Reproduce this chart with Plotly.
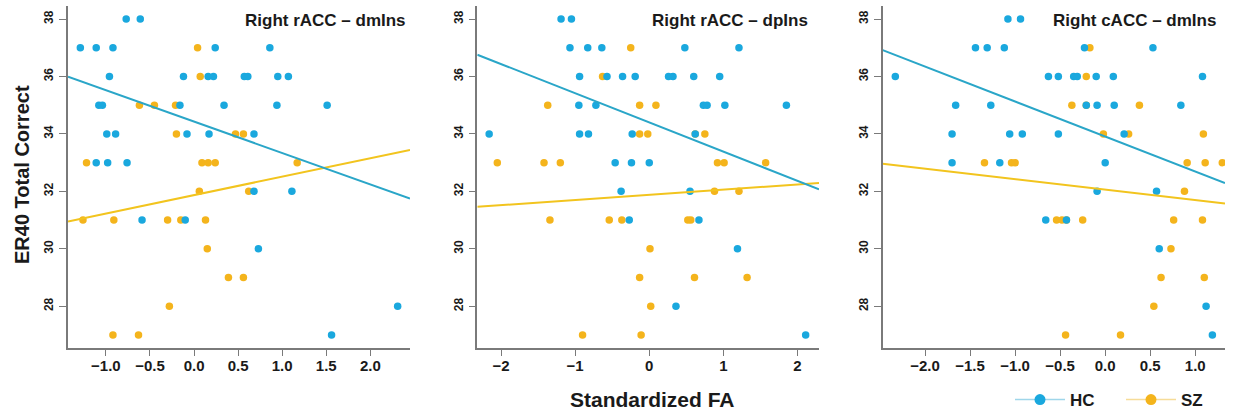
import plotly.graph_objects as go

# ---------------- data ----------------
panel_titles = ["Right rACC \u2013 dmIns", "Right rACC \u2013 dpIns", "Right cACC \u2013 dmIns"]
group_names = ["HC", "SZ"]

# Panel 1: Right rACC - dmIns
p1_hc_x = [-0.77, -0.61, -1.29, -1.11, -0.92, 0.24, 0.86, -0.96, -0.12, 0.16, 0.22, 0.57, 0.61, 0.95, 1.07,
           -1.08, -1.04, -0.16, 0.34, 0.94, 1.51, -0.99, -0.89, -0.08, 0.17, 0.68, -1.11, -0.98, -0.76,
           0.68, 1.11, -0.59, -0.10, 0.73, 2.31, 1.56]
p1_hc_y = [38, 38, 37, 37, 37, 37, 37, 36, 36, 36, 36, 36, 36, 36, 36,
           35, 35, 35, 35, 35, 35, 34, 34, 34, 34, 34, 33, 33, 33,
           32, 32, 31, 31, 30, 28, 27]
p1_sz_x = [0.04, 0.07, -0.62, -0.45, -0.21, -0.20, 0.47, 0.56, -1.22, 0.09, 0.16, 0.24, 1.17,
           0.06, 0.62, -1.26, -0.91, -0.30, -0.15, 0.13, 0.15, 0.39, 0.56, -0.28, -0.92, -0.63]
p1_sz_y = [37, 36, 35, 35, 35, 34, 34, 34, 33, 33, 33, 33, 33,
           32, 32, 31, 31, 31, 31, 31, 30, 29, 29, 28, 27, 27]

# Panel 2: Right rACC - dpIns
p2_hc_x = [-1.19, -1.05, -1.07, -0.83, -0.64, 0.48, 1.21, -0.94, -0.57, -0.36, -0.19, 0.26, 0.32, 0.60, 0.95,
           -0.95, -0.72, 0.73, 0.78, 1.02, 1.85, -2.16, -0.94, -0.82, -0.23, 0.62, -0.46, -0.24, 0.00,
           -0.38, 0.55, -0.27, 0.67, 1.19, 0.36, 2.11]
p2_hc_y = [38, 38, 37, 37, 37, 37, 37, 36, 36, 36, 36, 36, 36, 36, 36,
           35, 35, 35, 35, 35, 35, 34, 34, 34, 34, 34, 33, 33, 33,
           32, 32, 31, 31, 30, 28, 27]
p2_sz_x = [-0.25, -0.63, -1.37, -0.13, 0.09, -0.13, -0.02, 0.62, 0.75, -2.05, -1.42, -1.20, 0.92, 1.01, 1.57,
           0.88, 1.21, -1.34, -0.54, -0.37, 0.52, 0.56, 0.01, -0.13, 0.61, 1.32, 0.02, -0.90, -0.11]
p2_sz_y = [37, 36, 35, 35, 35, 34, 34, 34, 34, 33, 33, 33, 33, 33, 33,
           32, 32, 31, 31, 31, 31, 31, 30, 29, 29, 29, 28, 27, 27]

# Panel 3: Right cACC - dmIns
p3_hc_x = [-1.08, -0.94, -1.44, -1.31, -1.12, -0.23, 0.53, -2.33, -0.63, -0.52, -0.35, -0.31, -0.10, 0.09, 1.08,
           -1.66, -1.27, -0.21, -0.09, 0.10, 0.84, -1.70, -1.06, -0.92, -0.52, 0.21, -1.70, -1.17, 0.00,
           -0.09, 0.57, -0.66, -0.43, 0.60, 1.12, 1.19]
p3_hc_y = [38, 38, 37, 37, 37, 37, 37, 36, 36, 36, 36, 36, 36, 36, 36,
           35, 35, 35, 35, 35, 35, 34, 34, 34, 34, 34, 33, 33, 33,
           32, 32, 31, 31, 30, 28, 27]
p3_sz_x = [-0.17, -0.21, -0.37, -0.21, 0.38, -0.02, 0.26, 1.09, -1.34, -1.04, -1.00, 0.91, 1.11, 1.30,
           0.88, -0.54, -0.48, -0.43, -0.25, 0.76, 1.08, 0.73, 0.62, 1.10, 0.54, -0.44, 0.17]
p3_sz_y = [37, 36, 35, 35, 35, 34, 34, 34, 33, 33, 33, 33, 33, 33,
           32, 31, 31, 31, 31, 31, 31, 30, 29, 29, 28, 27, 27]

# fitted regression lines (intercept, slope) per panel
hc_intercepts = [34.43, 34.40, 33.91]
hc_slopes = [-1.095, -1.017, -1.218]
sz_intercepts = [31.87, 31.88, 32.06]
sz_slopes = [0.642, 0.18, -0.366]

x_ranges = [[-1.43, 2.45], [-2.32, 2.29], [-2.47, 1.33]]
x_tickvals = [[-1.0, -0.5, 0.0, 0.5, 1.0, 1.5, 2.0], [-2, -1, 0, 1, 2],
              [-2.0, -1.5, -1.0, -0.5, 0.0, 0.5, 1.0]]
x_ticktext = [["\u22121.0", "\u22120.5", "0.0", "0.5", "1.0", "1.5", "2.0"],
              ["\u22122", "\u22121", "0", "1", "2"],
              ["\u22122.0", "\u22121.5", "\u22121.0", "\u22120.5", "0.0", "0.5", "1.0"]]
y_tickvals = [28, 30, 32, 34, 36, 38]
y_range = [26.56, 38.44]

# ---------------- style ----------------
W, H = 1235, 418
HC_COLOR = "#1aa8de"
SZ_COLOR = "#f4b41c"
HC_LINE = "#2aa6c8"
SZ_LINE = "#f2c41e"
AXIS_COLOR = "#7a7a7a"
FONT = "Liberation Sans, Arial, sans-serif"
TEXT = "#1a1a1a"

x_px = [(68, 410), (477.3, 819), (882.7, 1225)]
y_px = (6.4, 347.6)
ydom = [1 - y_px[1] / H, 1 - y_px[0] / H]

fig = go.Figure()
data = [
    (p1_hc_x, p1_hc_y, p1_sz_x, p1_sz_y),
    (p2_hc_x, p2_hc_y, p2_sz_x, p2_sz_y),
    (p3_hc_x, p3_hc_y, p3_sz_x, p3_sz_y),
]

for i, (hx, hy, sx, sy) in enumerate(data):
    xa = "x" if i == 0 else f"x{i+1}"
    ya = "y" if i == 0 else f"y{i+1}"
    fig.add_trace(go.Scatter(x=sx, y=sy, mode="markers", xaxis=xa, yaxis=ya, showlegend=False,
                             marker=dict(color=SZ_COLOR, size=7.5, line=dict(width=0))))
    fig.add_trace(go.Scatter(x=hx, y=hy, mode="markers", xaxis=xa, yaxis=ya, showlegend=False,
                             marker=dict(color=HC_COLOR, size=7.5, line=dict(width=0))))
    xr = x_ranges[i]
    fig.add_trace(go.Scatter(x=xr, y=[sz_intercepts[i] + sz_slopes[i] * v for v in xr], mode="lines",
                             xaxis=xa, yaxis=ya, showlegend=False, line=dict(color=SZ_LINE, width=2)))
    fig.add_trace(go.Scatter(x=xr, y=[hc_intercepts[i] + hc_slopes[i] * v for v in xr], mode="lines",
                             xaxis=xa, yaxis=ya, showlegend=False, line=dict(color=HC_LINE, width=2)))

# legend entries
for name, mc, lc in [(group_names[0], HC_COLOR, "#9fd6ea"), (group_names[1], SZ_COLOR, "#f6dc98")]:
    fig.add_trace(go.Scatter(x=[None], y=[None], mode="lines+markers", name=name,
                             marker=dict(color=mc, size=11), line=dict(color=lc, width=1.5)))

layout = dict(
    width=W, height=H, margin=dict(l=0, r=0, t=0, b=0, pad=0, autoexpand=False),
    plot_bgcolor="white", paper_bgcolor="white",
    font=dict(family=FONT, color=TEXT),
    legend=dict(orientation="h", x=1010 / W, xanchor="left", y=1 - 400 / H, yanchor="middle",
                font=dict(size=17, weight="bold", color=TEXT), itemwidth=50,
                entrywidth=46, entrywidthmode="pixels", bgcolor="rgba(0,0,0,0)"),
)
for i in range(3):
    sfx = "" if i == 0 else str(i + 1)
    layout["xaxis" + sfx] = dict(
        domain=[x_px[i][0] / W, x_px[i][1] / W], range=x_ranges[i], anchor="y" + sfx,
        tickvals=x_tickvals[i], ticktext=x_ticktext[i], showline=True, linecolor=AXIS_COLOR, linewidth=1.5,
        ticks="outside", ticklen=7, tickwidth=1.2, tickcolor=AXIS_COLOR, showgrid=False, zeroline=False,
        tickfont=dict(size=15, weight="bold", color=TEXT, family=FONT), ticklabelstandoff=-3, automargin=False)
    layout["yaxis" + sfx] = dict(
        domain=ydom, range=y_range, anchor="x" + sfx, tickvals=y_tickvals, tickangle=-90,
        showline=True, linecolor=AXIS_COLOR, linewidth=1.5,
        ticks="outside", ticklen=7, tickwidth=1.2, tickcolor=AXIS_COLOR, showgrid=False, zeroline=False,
        tickfont=dict(size=12, weight="bold", color=TEXT, family=FONT), ticklabelstandoff=1, automargin=False)
fig.update_layout(**layout)

title_right = [408, 810, 1218]
for i in range(3):
    fig.add_annotation(text=panel_titles[i], xref="paper", yref="paper", x=title_right[i] / W, y=1 - 21 / H,
                       xanchor="right", yanchor="middle", showarrow=False,
                       font=dict(size=17, weight="bold", color=TEXT, family=FONT))

fig.add_annotation(text="ER40 Total Correct", xref="paper", yref="paper", x=22 / W, y=1 - 175 / H,
                   textangle=-90, xanchor="center", yanchor="middle", showarrow=False,
                   font=dict(size=20, weight="bold", color=TEXT, family=FONT))
fig.add_annotation(text="Standardized FA", xref="paper", yref="paper", x=652 / W, y=1 - 399 / H,
                   xanchor="center", yanchor="middle", showarrow=False,
                   font=dict(size=21, weight="bold", color=TEXT, family=FONT))

fig.write_html("out.html", config={"displayModeBar": False},
               post_script="document.body.style.margin='0';document.body.style.overflow='hidden';")
